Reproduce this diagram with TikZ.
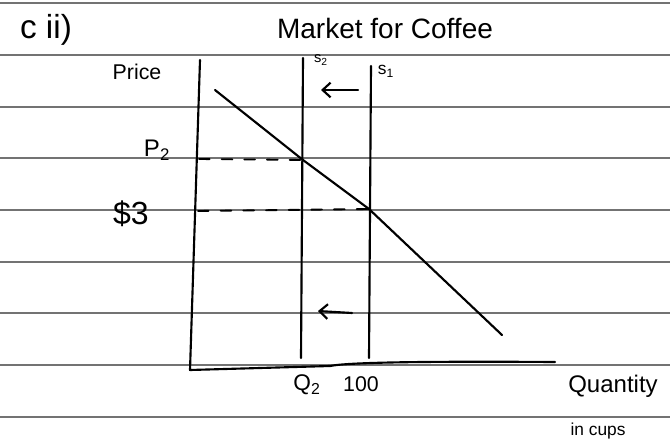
\documentclass[tikz,border=0pt]{standalone}
\usepackage{fontspec}
\setmainfont{Liberation Sans}
\usetikzlibrary{arrows.meta}
\begin{document}
\begin{tikzpicture}[x=0.75pt,y=-0.75pt,
  rule/.style={draw=black!55, line width=0.8pt},
  ink/.style={draw=black, line width=1.6pt, line cap=round, line join=round},
  guide/.style={ink, line width=1.4pt, dash pattern=on 8pt off 9pt},
  shiftarrow/.style={ink, -{Straight Barb[length=6pt,width=11pt]}},
  lbl/.style={inner sep=1pt, font=\fontsize{15}{17}\selectfont},
  small/.style={inner sep=1pt, font=\fontsize{10}{12}\selectfont}]
\useasboundingbox (0,0) rectangle (670,442);
\fill[white] (0,0) rectangle (670,442);
% ruled paper
\foreach \yy in {3,55,107,158,210,262,313,365,417}
  \draw[rule] (0,\yy) -- (670,\yy);
% key points
\coordinate (ytop) at (200,60);
\coordinate (origin) at (190,370);
\coordinate (xbend) at (330,366);
\coordinate (xend) at (555,362);
\coordinate (s2top) at (303,58);
\coordinate (s2bot) at (301,358);
\coordinate (s1top) at (371,66);
\coordinate (s1bot) at (369,358);
\coordinate (dtop) at (215,90);
\coordinate (e2) at (303,160);
\coordinate (e1) at (369,209);
\coordinate (dbot) at (502,335);
\coordinate (p2axis) at (199,159);
\coordinate (p1axis) at (198,211);
\coordinate (a1s) at (358,90);
\coordinate (a1e) at (321,90);
\coordinate (a2s) at (352,313);
\coordinate (a2e) at (318,311);
% axes
\draw[ink] (ytop) -- (origin) -- (xbend) .. controls (345,363) and (400,361) .. (xend);
% supply lines
\draw[ink] (s2top) -- (s2bot);
\draw[ink] (s1top) -- (s1bot);
% demand
\draw[ink] (dtop) -- (e2) -- (e1) -- (dbot);
% dashed guides
\draw[guide] (p2axis) -- (e2);
\draw[guide] (p1axis) -- (e1);
% shift arrows
\draw[shiftarrow] (a1s) -- (a1e);
\draw[shiftarrow] (a2s) -- (a2e);
% labels
\node[lbl, font=\fontsize{25}{27}\selectfont] (part) at (46,30) {c ii)};
\node[lbl, font=\fontsize{21}{23}\selectfont] (title) at (385,28) {Market for Coffee};
\node[lbl, font=\fontsize{16}{18}\selectfont] (price) at (137,72) {Price};
\node[small, font=\fontsize{11}{13}\selectfont] (s2lbl) at (321,60) {s\textsubscript{2}};
\node[small, font=\fontsize{13}{15}\selectfont] (s1lbl) at (386,71) {s\textsubscript{1}};
\node[lbl, font=\fontsize{18}{20}\selectfont] (p2lbl) at (157,150) {P\textsubscript{2}};
\node[lbl, font=\fontsize{24}{26}\selectfont] (p1lbl) at (131,214) {\$3};
\node[lbl, font=\fontsize{17}{19}\selectfont] (q2lbl) at (307,385) {Q\textsubscript{2}};
\node[lbl, font=\fontsize{16}{18}\selectfont] (q1lbl) at (361,384) {100};
\node[lbl, font=\fontsize{18}{20}\selectfont] (qlbl) at (613,386) {Quantity};
\node[small, font=\fontsize{13}{15}\selectfont] (unit) at (598,431) {in cups};
\end{tikzpicture}
\end{document}
